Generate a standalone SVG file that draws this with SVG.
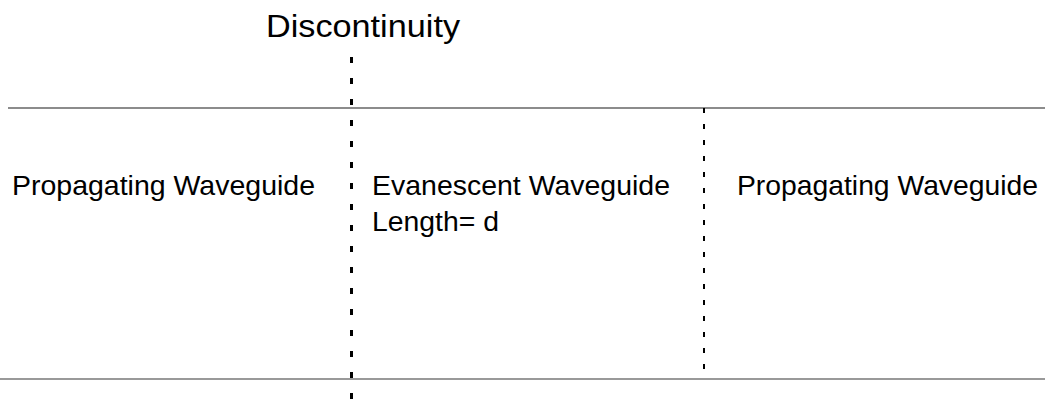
<svg xmlns="http://www.w3.org/2000/svg" width="1045" height="400" viewBox="0 0 1045 400">
<style>
  text { font-family: "Liberation Sans", Arial, sans-serif; fill: #000; }
  .lbl { font-size: 27.5px; }
  .title { font-size: 32px; }
  .wall-top { stroke: #666; stroke-width: 1.5; fill: none; }
  .wall-bot { stroke: #999; stroke-width: 2; fill: none; }
  .disc { stroke: #000; stroke-width: 3; stroke-dasharray: 6 15; fill: none; }
  .edge { stroke: #000; stroke-width: 2; stroke-dasharray: 5 11; fill: none; }
</style>
<rect width="1045" height="400" fill="#fff"/>
<g id="connectors">
  <line class="wall-top" x1="8" y1="108" x2="1045" y2="108"/>
  <line class="wall-bot" x1="0" y1="379" x2="1045" y2="379"/>
  <line class="disc" x1="351.5" y1="57" x2="351.5" y2="400"/>
  <line class="edge" x1="704" y1="108" x2="704" y2="380"/>
</g>
<g id="discontinuity">
  <text class="title" x="266" y="37" textLength="194" lengthAdjust="spacingAndGlyphs">Discontinuity</text>
</g>
<g id="propagating-left">
  <text class="lbl" x="12" y="195" textLength="303" lengthAdjust="spacingAndGlyphs">Propagating Waveguide</text>
</g>
<g id="evanescent">
  <text class="lbl" x="372" y="195" textLength="298" lengthAdjust="spacingAndGlyphs">Evanescent Waveguide</text>
  <text class="lbl" x="372" y="231" textLength="127" lengthAdjust="spacingAndGlyphs">Length= d</text>
</g>
<g id="propagating-right">
  <text class="lbl" x="737" y="195" textLength="301" lengthAdjust="spacingAndGlyphs">Propagating Waveguide</text>
</g>
</svg>
